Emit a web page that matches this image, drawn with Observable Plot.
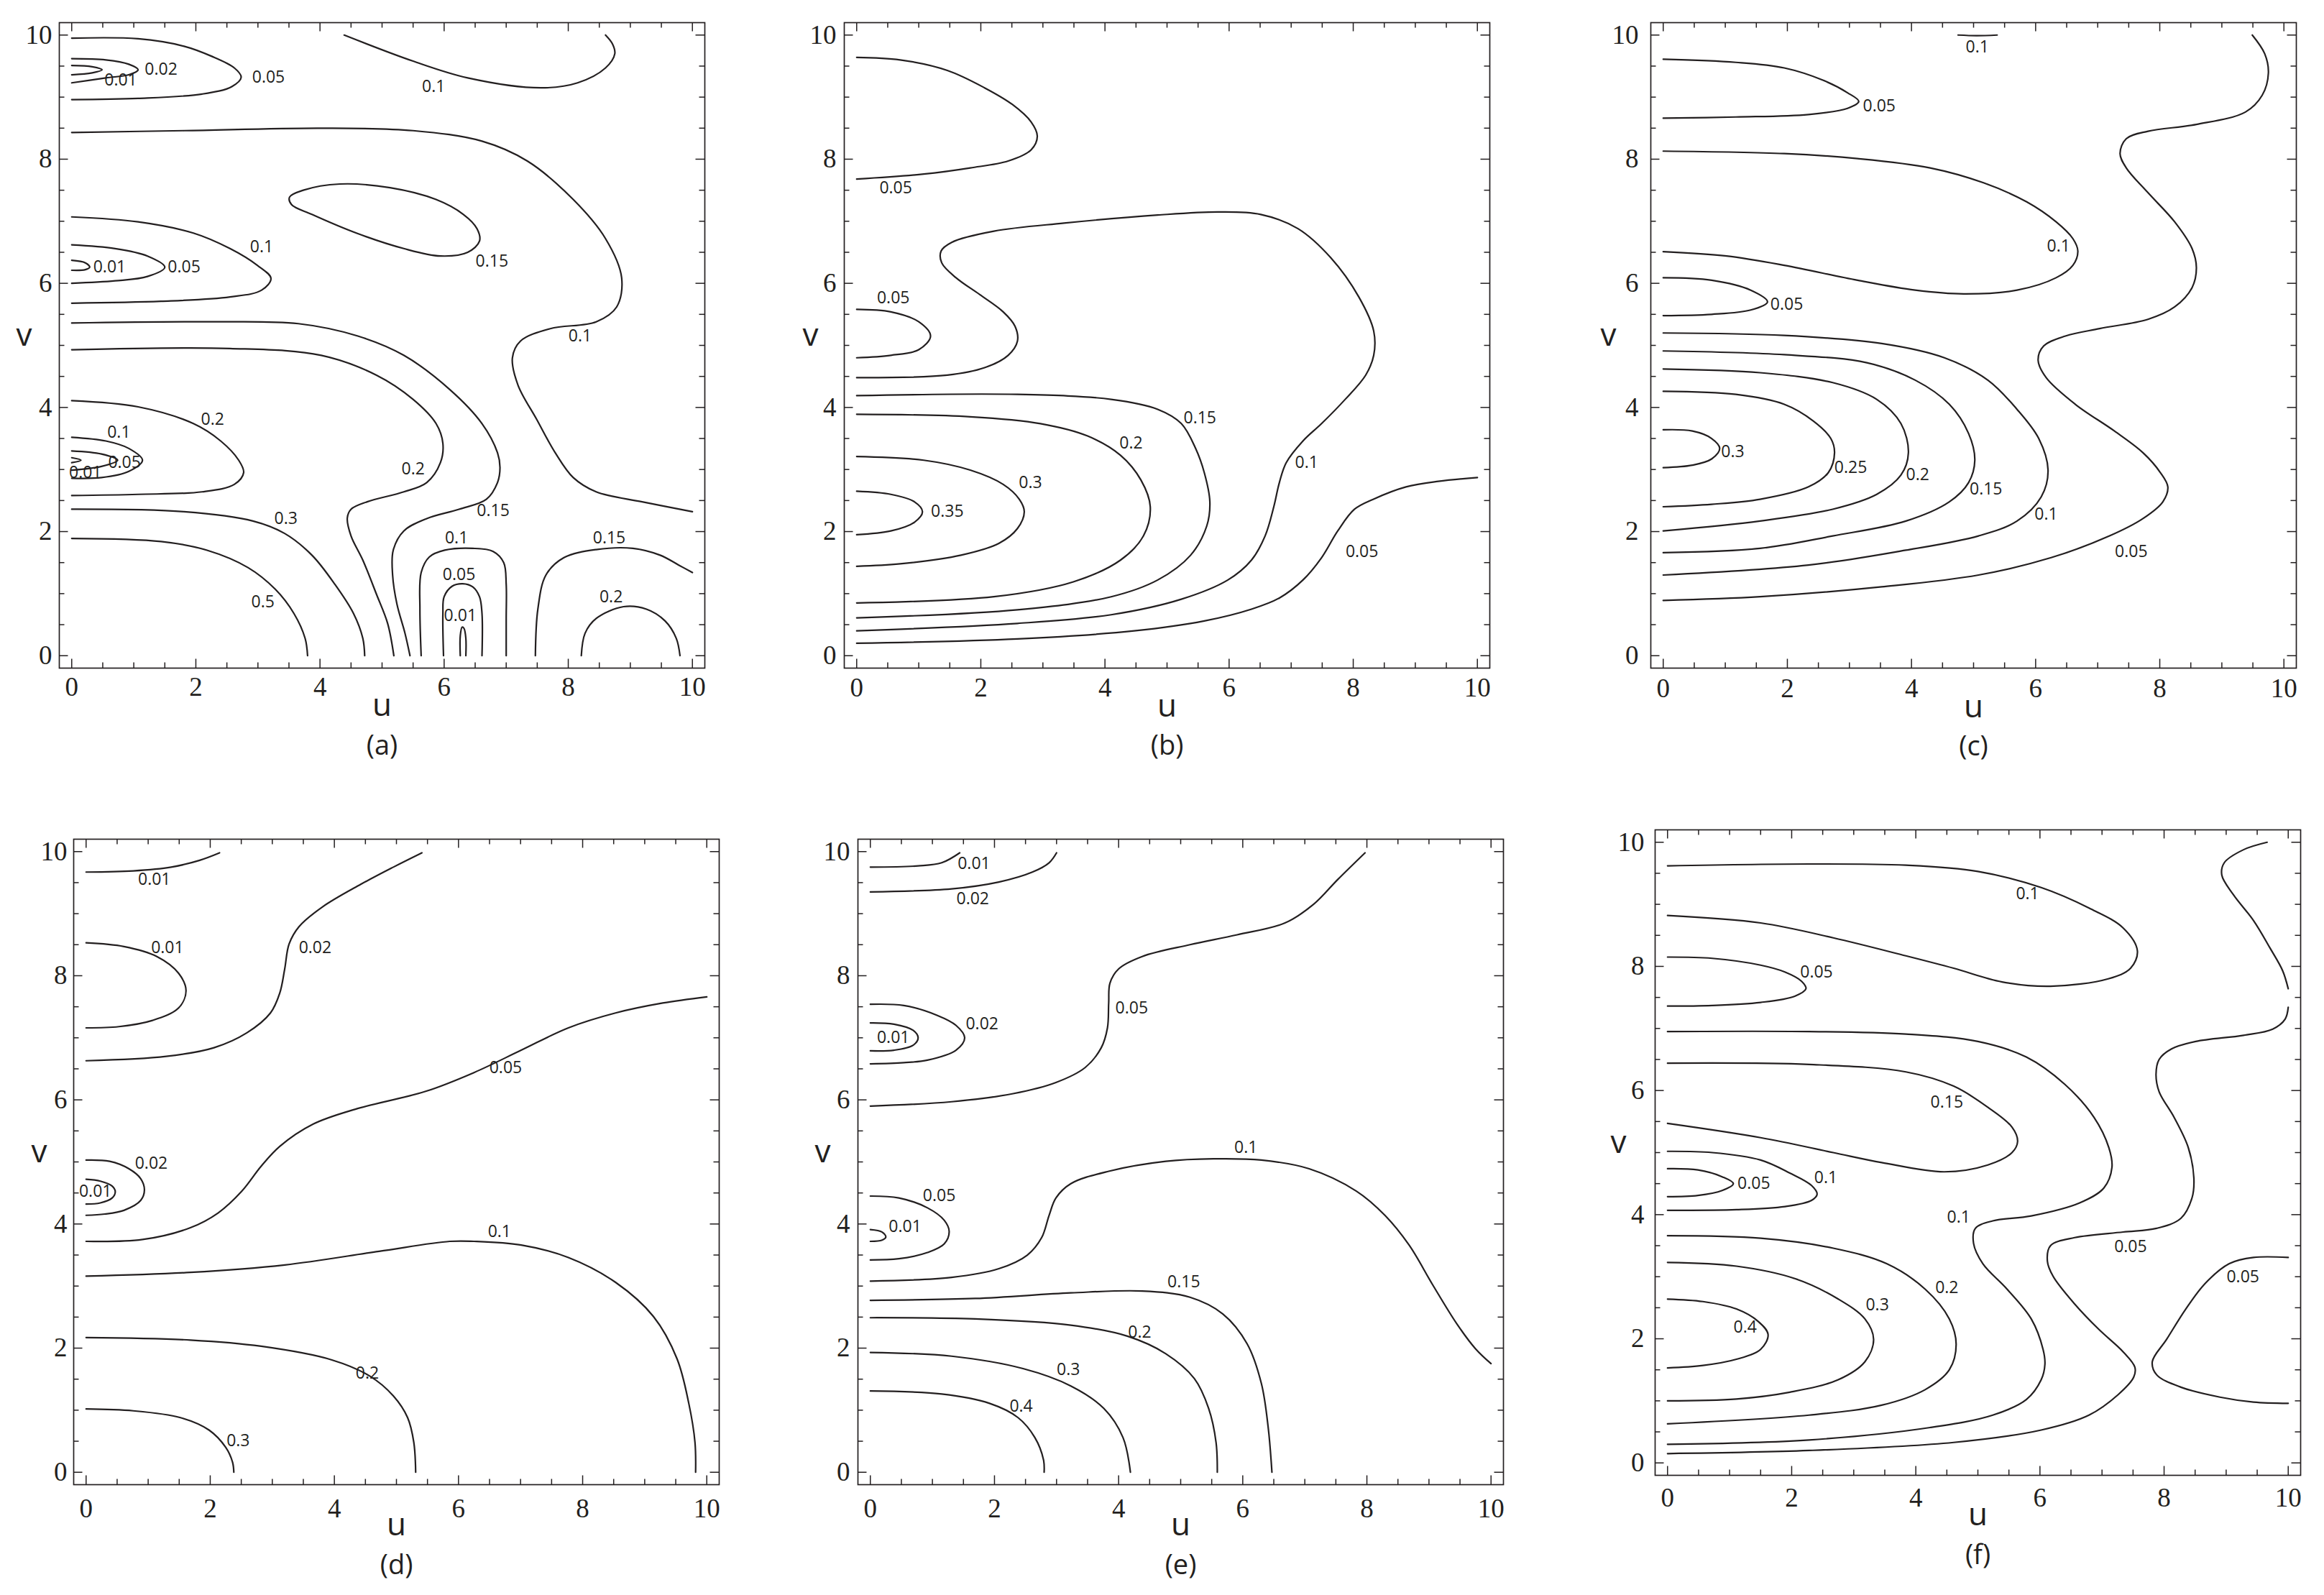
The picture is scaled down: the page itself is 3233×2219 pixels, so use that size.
<!DOCTYPE html>
<html><head><meta charset="utf-8">
<script src="https://cdn.jsdelivr.net/npm/d3@7"></script>
<script src="https://cdn.jsdelivr.net/npm/@observablehq/plot@0.6"></script>
<style>
html,body{margin:0;padding:0;background:#fff;}
#page{position:relative;width:3233px;height:2219px;background:#fff;overflow:hidden;}
#page svg{position:absolute;}
#page svg [aria-label$="tick label"] text{font-family:'Liberation Serif','Times New Roman',serif;}
</style></head><body><div id="page"></div>
<script>
// ---------- axis ticks ----------
const majorTicks = [0, 2, 4, 6, 8, 10];
const minorTicks = [0.5, 1, 1.5, 2.5, 3, 3.5, 4.5, 5, 5.5, 6.5, 7, 7.5, 8.5, 9, 9.5];

// ---------- panel (a) ----------
const linesA = [
  [[0,9.95],[1.07,9.94],[1.81,9.82],[2.25,9.66],[2.62,9.47],[2.73,9.32],[2.58,9.17],[2.10,9.05],[1.07,8.98],[0,8.96]],
  [[0,9.62],[0.55,9.6],[0.92,9.53],[1.07,9.44],[0.92,9.36],[0.55,9.31],[0,9.23]],
  [[0,9.51],[0.33,9.49],[0.49,9.44],[0.33,9.39],[0,9.36]],
  [[4.39,10.0],[5.5,9.58],[6.38,9.31],[7.56,9.15],[8.15,9.23],[8.6,9.47],[8.75,9.7],[8.71,9.86],[8.6,10.0]],
  [[0,8.43],[1.81,8.46],[4.02,8.5],[5.5,8.46],[6.61,8.29],[7.34,7.97],[8.08,7.35],[8.6,6.72],[8.86,6.09],[8.78,5.62],[8.45,5.38],[7.71,5.27],[7.23,5.07],[7.1,4.8],[7.19,4.36],[7.49,3.81],[7.79,3.27],[8.08,2.87],[8.45,2.64],[9.19,2.48],[10.0,2.32]],
  [[0,7.07],[1.07,6.99],[1.96,6.81],[2.55,6.56],[2.99,6.29],[3.21,6.08],[3.06,5.89],[2.55,5.78],[1.44,5.71],[0,5.68]],
  [[0,6.62],[0.7,6.56],[1.22,6.44],[1.5,6.26],[1.22,6.11],[0.7,6.04],[0,6.0]],
  [[0,6.37],[0.22,6.33],[0.29,6.26],[0.22,6.22],[0,6.21]],
  [[0,5.36],[2.18,5.38],[3.65,5.35],[4.61,5.15],[5.35,4.84],[6.09,4.29],[6.61,3.74],[6.86,3.27],[6.9,3.03],[6.86,2.79],[6.68,2.52],[6.24,2.36],[5.72,2.21],[5.35,2.01],[5.18,1.7],[5.17,1.3],[5.24,0.83],[5.37,0.36],[5.45,0]],
  [[0,4.93],[2.55,4.95],[4.02,4.84],[4.91,4.52],[5.5,4.13],[5.87,3.74],[5.98,3.42],[5.94,3.11],[5.72,2.79],[5.35,2.64],[4.76,2.48],[4.5,2.36],[4.44,2.22],[4.5,1.93],[4.69,1.54],[4.91,0.99],[5.09,0.52],[5.19,0]],
  [[0,2.36],[1.81,2.32],[2.92,2.17],[3.43,1.97],[3.87,1.62],[4.24,1.15],[4.54,0.68],[4.69,0.28],[4.72,0]],
  [[0,1.89],[1.44,1.84],[2.18,1.7],[2.84,1.42],[3.28,1.07],[3.58,0.68],[3.76,0.28],[3.8,0]],
  [[0,4.11],[1.07,4.01],[1.96,3.74],[2.4,3.46],[2.69,3.15],[2.77,2.95],[2.62,2.76],[2.1,2.64],[1.07,2.6],[0,2.58]],
  [[0,3.52],[0.55,3.46],[0.92,3.34],[1.14,3.15],[0.92,2.97],[0.48,2.87],[0,2.86]],
  [[0,3.3],[0.48,3.25],[0.74,3.15],[0.48,3.05],[0,2.99]],
  [[0,3.19],[0.15,3.15],[0,3.11]],
  [[7.47,0],[7.51,0.75],[7.64,1.3],[7.93,1.58],[8.45,1.71],[9.04,1.73],[9.48,1.62],[9.78,1.46],[10.0,1.34]],
  [[8.21,0],[8.27,0.36],[8.45,0.6],[8.89,0.79],[9.26,0.75],[9.56,0.56],[9.74,0.28],[9.8,0]],
  [[5.63,0],[5.61,0.75],[5.63,1.34],[5.76,1.59],[6.01,1.7],[6.46,1.73],[6.79,1.68],[6.96,1.5],[7.0,1.15],[7.0,0.6],[7.0,0]],
  [[5.99,0],[5.98,0.68],[6.0,0.95],[6.13,1.12],[6.3,1.16],[6.46,1.11],[6.57,0.95],[6.61,0.68],[6.61,0]],
  [[6.26,0],[6.26,0.32],[6.29,0.46],[6.32,0.44],[6.35,0.28],[6.35,0]]
];
const closedA = [
  [[3.51,7.39],[3.73,7.5],[4.32,7.6],[5.13,7.54],[5.87,7.35],[6.31,7.11],[6.53,6.88],[6.57,6.68],[6.38,6.5],[5.94,6.44],[5.35,6.56],[4.61,6.8],[3.87,7.11],[3.54,7.27]]
];
const labelsA = [
  [1.44,9.44,"0.02"],[3.17,9.32,"0.05"],[0.79,9.27,"0.01"],[5.83,9.17,"0.1"],[3.06,6.58,"0.1"],
  [0.61,6.26,"0.01"],[1.81,6.26,"0.05"],[6.77,6.35,"0.15"],[8.19,5.15,"0.1"],[2.27,3.8,"0.2"],
  [0.76,3.6,"0.1"],[0.85,3.11,"0.05"],[0.22,2.95,"0.01"],[5.5,3.01,"0.2"],[3.45,2.21,"0.3"],
  [6.79,2.34,"0.15"],[6.2,1.89,"0.1"],[8.66,1.89,"0.15"],[6.24,1.3,"0.05"],[8.69,0.95,"0.2"],
  [3.08,0.86,"0.5"],[6.26,0.64,"0.01"]
];

// ---------- panel (b) ----------
const linesB = [
  [[0,9.64],[0.7,9.6],[1.46,9.43],[2.06,9.15],[2.51,8.88],[2.81,8.6],[2.91,8.37],[2.81,8.15],[2.44,7.97],[1.83,7.86],[1.08,7.76],[0,7.68]],
  [[0,5.58],[0.55,5.54],[1.0,5.38],[1.19,5.15],[1.0,4.93],[0.55,4.84],[0,4.8]],
  [[0,4.48],[1.46,4.52],[2.06,4.64],[2.44,4.84],[2.59,5.07],[2.55,5.31],[2.36,5.54],[1.98,5.82],[1.6,6.09],[1.37,6.33],[1.36,6.52],[1.53,6.66],[2.21,6.84],[3.34,6.97],[4.85,7.1],[5.83,7.15],[6.51,7.11],[7.11,6.88],[7.64,6.41],[8.09,5.78],[8.33,5.23],[8.33,4.84],[8.2,4.52],[7.87,4.13],[7.49,3.74],[7.19,3.46],[6.92,3.11],[6.81,2.79],[6.72,2.4],[6.58,1.93],[6.36,1.54],[5.98,1.22],[5.23,0.91],[4.1,0.66],[2.59,0.52],[0,0.4]],
  [[0,4.19],[2.59,4.21],[4.1,4.13],[4.85,3.97],[5.23,3.74],[5.46,3.34],[5.6,2.95],[5.69,2.48],[5.64,2.09],[5.38,1.62],[4.85,1.22],[4.1,0.95],[2.59,0.74],[0,0.61]],
  [[0,3.89],[1.83,3.85],[2.96,3.74],[3.72,3.54],[4.25,3.23],[4.58,2.83],[4.73,2.4],[4.62,1.93],[4.25,1.54],[3.49,1.19],[2.21,0.95],[0,0.85]],
  [[0,3.21],[1.08,3.15],[1.83,2.99],[2.36,2.76],[2.62,2.52],[2.7,2.32],[2.59,2.05],[2.29,1.81],[1.68,1.62],[0.7,1.48],[0,1.44]],
  [[0,2.65],[0.55,2.6],[0.93,2.48],[1.06,2.32],[0.93,2.15],[0.55,2.01],[0,1.95]],
  [[0,0.2],[2.59,0.27],[4.47,0.4],[5.6,0.56],[6.36,0.75],[6.81,0.93],[7.19,1.22],[7.49,1.58],[7.75,2.01],[8.02,2.36],[8.32,2.52],[8.85,2.72],[9.37,2.81],[10.0,2.87]]
];
const labelsB = [
  [0.63,7.54,"0.05"],[0.59,5.76,"0.05"],[5.53,3.83,"0.15"],[4.42,3.42,"0.2"],[7.25,3.11,"0.1"],
  [2.8,2.79,"0.3"],[1.46,2.32,"0.35"],[8.14,1.67,"0.05"]
];

// ---------- panel (c) ----------
const linesC = [
  [[4.75,10.0],[5.05,9.99],[5.38,10.0]],
  [[0,9.61],[1.17,9.56],[1.95,9.47],[2.58,9.27],[2.97,9.07],[3.15,8.93],[2.97,8.82],[2.34,8.72],[1.17,8.68],[0,8.66]],
  [[0,8.13],[1.95,8.09],[3.13,8.01],[4.3,7.86],[5.16,7.62],[5.86,7.31],[6.33,6.99],[6.6,6.72],[6.68,6.52],[6.6,6.29],[6.33,6.09],[5.7,5.89],[4.84,5.83],[4.06,5.89],[3.13,6.05],[1.95,6.29],[1.02,6.44],[0,6.51]],
  [[0,6.09],[0.78,6.05],[1.41,5.89],[1.68,5.7],[1.41,5.57],[0.78,5.5],[0,5.48]],
  [[9.49,10.0],[9.69,9.7],[9.75,9.39],[9.65,9.03],[9.38,8.76],[8.59,8.56],[7.81,8.45],[7.46,8.33],[7.36,8.09],[7.46,7.86],[7.81,7.46],[8.24,6.99],[8.52,6.56],[8.59,6.25],[8.52,5.93],[8.24,5.62],[7.81,5.42],[7.03,5.27],[6.48,5.15],[6.13,4.99],[6.04,4.76],[6.17,4.48],[6.64,4.05],[7.27,3.62],[7.73,3.27],[8.01,2.95],[8.13,2.72],[8.05,2.48],[7.73,2.21],[7.19,1.93],[6.25,1.58],[5.08,1.3],[3.52,1.11],[1.56,0.95],[0,0.89]],
  [[0,5.2],[1.95,5.16],[3.52,5.03],[4.53,4.8],[5.23,4.44],[5.7,3.97],[6.05,3.5],[6.2,2.99],[6.09,2.56],[5.7,2.17],[5.08,1.93],[3.91,1.7],[2.34,1.46],[0,1.3]],
  [[0,4.91],[1.95,4.85],[3.28,4.72],[4.06,4.44],[4.61,4.05],[4.92,3.58],[5.02,3.15],[4.92,2.79],[4.61,2.48],[3.91,2.17],[2.73,1.93],[1.56,1.73],[0,1.66]],
  [[0,4.62],[1.56,4.56],[2.73,4.4],[3.44,4.13],[3.83,3.74],[3.95,3.27],[3.83,2.91],[3.44,2.6],[2.73,2.36],[1.56,2.17],[0,2.01]],
  [[0,4.26],[1.17,4.21],[1.95,4.05],[2.42,3.78],[2.7,3.5],[2.76,3.27],[2.66,2.95],[2.34,2.72],[1.56,2.52],[0.78,2.44],[0,2.4]],
  [[0,3.64],[0.47,3.62],[0.78,3.5],[0.91,3.34],[0.78,3.17],[0.47,3.07],[0,3.03]]
];
const labelsC = [
  [5.06,9.8,"0.1"],[3.48,8.85,"0.05"],[6.37,6.6,"0.1"],[1.99,5.66,"0.05"],[1.12,3.28,"0.3"],
  [3.02,3.03,"0.25"],[4.1,2.91,"0.2"],[5.2,2.68,"0.15"],[6.17,2.28,"0.1"],[7.54,1.67,"0.05"]
];

// ---------- panel (d) ----------
const linesD = [
  [[0,9.67],[0.76,9.69],[1.37,9.75],[1.83,9.86],[2.15,9.98]],
  [[0,6.63],[1.29,6.7],[2.06,6.84],[2.59,7.08],[2.97,7.4],[3.12,7.72],[3.2,8.11],[3.27,8.51],[3.43,8.79],[3.81,9.11],[4.42,9.47],[4.95,9.75],[5.41,9.98]],
  [[0,8.53],[0.61,8.47],[1.14,8.31],[1.49,8.04],[1.61,7.76],[1.49,7.48],[1.07,7.28],[0.53,7.18],[0,7.16]],
  [[0,3.72],[0.91,3.75],[1.68,3.94],[2.13,4.18],[2.51,4.53],[2.82,4.93],[3.12,5.25],[3.66,5.61],[4.34,5.85],[5.48,6.14],[6.25,6.44],[7.01,6.8],[7.77,7.16],[8.53,7.4],[9.29,7.56],[10.0,7.66]],
  [[0,5.03],[0.38,5.01],[0.69,4.89],[0.88,4.73],[0.94,4.55],[0.88,4.38],[0.61,4.22],[0.3,4.16],[0,4.14]],
  [[0,4.72],[0.23,4.69],[0.42,4.61],[0.47,4.52],[0.42,4.42],[0.23,4.34],[0,4.32]],
  [[0,3.16],[1.68,3.22],[3.2,3.34],[4.72,3.56],[5.86,3.72],[6.25,3.72],[7.01,3.66],[7.77,3.46],[8.53,3.06],[9.14,2.51],[9.52,1.83],[9.71,1.11],[9.81,0.48],[9.82,0]],
  [[0,2.17],[1.68,2.13],[2.82,2.03],[3.96,1.81],[4.57,1.55],[4.95,1.23],[5.18,0.88],[5.28,0.48],[5.31,0]],
  [[0,1.02],[0.76,0.99],[1.52,0.88],[1.98,0.68],[2.25,0.4],[2.36,0.16],[2.38,0]]
];
const labelsD = [
  [1.1,9.55,"0.01"],[1.31,8.45,"0.01"],[3.69,8.45,"0.02"],[6.76,6.52,"0.05"],[1.05,4.97,"0.02"],
  [0.15,4.52,"0.01"],[6.66,3.88,"0.1"],[4.53,1.59,"0.2"],[2.45,0.5,"0.3"]
];

// ---------- panel (e) ----------
const linesE = [
  [[0,9.75],[0.77,9.77],[1.15,9.82],[1.44,9.98]],
  [[0,9.35],[1.31,9.4],[2.07,9.51],[2.61,9.67],[2.88,9.82],[3.0,9.98]],
  [[0,5.9],[1.31,5.97],[2.3,6.1],[2.99,6.28],[3.46,6.52],[3.72,6.84],[3.82,7.16],[3.84,7.56],[3.86,7.88],[4.0,8.11],[4.38,8.31],[5.15,8.5],[5.91,8.66],[6.68,8.85],[7.14,9.15],[7.53,9.55],[7.97,9.98]],
  [[0,7.54],[0.54,7.52],[1.08,7.36],[1.38,7.2],[1.52,7.0],[1.38,6.8],[0.92,6.64],[0.54,6.6],[0,6.58]],
  [[0,7.24],[0.38,7.22],[0.69,7.12],[0.77,7.0],[0.69,6.88],[0.38,6.8],[0,6.79]],
  [[0,3.08],[1.31,3.14],[2.07,3.28],[2.53,3.5],[2.76,3.78],[2.88,4.14],[2.99,4.42],[3.23,4.65],[3.84,4.85],[4.76,5.01],[5.53,5.05],[6.3,5.03],[7.07,4.89],[7.83,4.53],[8.29,4.14],[8.68,3.66],[9.06,3.02],[9.45,2.39],[9.75,1.99],[10.0,1.75]],
  [[0,4.45],[0.46,4.42],[0.92,4.26],[1.19,4.06],[1.27,3.88],[1.19,3.68],[0.92,3.54],[0.46,3.44],[0,3.42]],
  [[0,3.91],[0.19,3.87],[0.25,3.79],[0.19,3.74],[0,3.72]],
  [[0,2.77],[1.69,2.8],[3.23,2.89],[4.38,2.92],[5.15,2.82],[5.68,2.55],[6.07,2.07],[6.3,1.43],[6.41,0.72],[6.47,0]],
  [[0,2.49],[1.69,2.47],[3.23,2.37],[4.15,2.19],[4.76,1.91],[5.22,1.51],[5.45,1.03],[5.57,0.48],[5.59,0]],
  [[0,1.93],[1.31,1.87],[2.46,1.67],[3.23,1.39],[3.76,1.03],[4.07,0.56],[4.19,0]],
  [[0,1.31],[1.15,1.26],[1.92,1.11],[2.38,0.88],[2.65,0.56],[2.79,0.2],[2.8,0]]
];
const labelsE = [
  [1.67,9.8,"0.01"],[1.65,9.24,"0.02"],[4.21,7.48,"0.05"],[1.8,7.22,"0.02"],[0.37,7.0,"0.01"],
  [6.05,5.23,"0.1"],[1.11,4.45,"0.05"],[0.56,3.96,"0.01"],[5.05,3.06,"0.15"],[4.34,2.25,"0.2"],
  [3.19,1.65,"0.3"],[2.43,1.06,"0.4"]
];

// ---------- panel (f) ----------
const linesF = [
  [[0,9.62],[2.28,9.65],[3.84,9.63],[5.0,9.53],[6.02,9.27],[6.79,8.94],[7.34,8.62],[7.57,8.25],[7.46,7.97],[7.1,7.8],[6.17,7.68],[5.39,7.75],[4.61,7.97],[3.84,8.17],[2.67,8.46],[1.5,8.7],[0,8.82]],
  [[0,8.15],[0.72,8.13],[1.5,8.02],[1.89,7.91],[2.16,7.76],[2.23,7.64],[2.05,7.52],[1.5,7.42],[0.72,7.37],[0,7.36]],
  [[9.66,10.0],[9.28,9.88],[8.97,9.67],[8.93,9.47],[9.12,9.15],[9.44,8.74],[9.71,8.29],[9.91,7.93],[10.0,7.64]],
  [[10.0,7.34],[9.95,7.15],[9.75,6.99],[9.28,6.89],[8.51,6.79],[8.12,6.67],[7.92,6.5],[7.87,6.26],[7.92,5.98],[8.16,5.57],[8.39,5.08],[8.48,4.59],[8.45,4.27],[8.27,3.94],[7.88,3.78],[7.34,3.72],[6.56,3.63],[6.17,3.5],[6.12,3.25],[6.21,3.01],[6.56,2.56],[6.95,2.15],[7.34,1.79],[7.53,1.54],[7.51,1.38],[7.26,1.1],[6.79,0.77],[6.02,0.53],[4.61,0.33],[2.28,0.2],[0,0.15]],
  [[10.0,3.31],[9.44,3.31],[9.05,3.21],[8.66,2.89],[8.35,2.48],[8.04,1.99],[7.81,1.63],[7.88,1.42],[8.27,1.22],[8.9,1.06],[9.44,0.98],[10.0,0.96]],
  [[0,6.95],[2.28,6.95],[3.84,6.91],[5.0,6.79],[5.78,6.54],[6.4,6.1],[6.87,5.57],[7.11,5.08],[7.16,4.76],[7.03,4.43],[6.64,4.19],[5.86,3.98],[5.24,3.9],[4.96,3.78],[4.93,3.54],[5.08,3.21],[5.47,2.8],[5.86,2.32],[6.05,1.83],[6.08,1.59],[6.02,1.34],[5.78,1.02],[5.24,0.77],[4.23,0.57],[2.28,0.37],[0,0.3]],
  [[0,6.44],[2.28,6.42],[3.84,6.3],[4.61,6.07],[5.16,5.73],[5.55,5.41],[5.64,5.18],[5.55,5.0],[5.16,4.8],[4.46,4.69],[3.45,4.84],[2.67,5.0],[1.5,5.24],[0,5.47]],
  [[0,5.02],[0.72,5.0],[1.5,4.88],[1.97,4.67],[2.32,4.47],[2.41,4.33],[2.32,4.23],[1.89,4.13],[1.11,4.08],[0,4.07]],
  [[0,4.74],[0.49,4.72],[0.88,4.61],[1.06,4.5],[0.88,4.39],[0.49,4.31],[0,4.29]],
  [[0,3.66],[1.5,3.62],[2.67,3.46],[3.53,3.21],[4.15,2.8],[4.54,2.32],[4.65,1.91],[4.54,1.5],[4.15,1.18],[3.45,0.93],[2.28,0.77],[0,0.63]],
  [[0,3.23],[1.11,3.17],[2.05,2.97],[2.75,2.64],[3.18,2.32],[3.32,1.99],[3.18,1.63],[2.75,1.34],[1.97,1.14],[1.11,1.03],[0,1.0]],
  [[0,2.64],[0.57,2.6],[1.11,2.48],[1.46,2.28],[1.62,2.07],[1.5,1.83],[1.11,1.67],[0.57,1.57],[0,1.53]]
];
const labelsF = [
  [5.8,9.17,"0.1"],[2.4,7.9,"0.05"],[4.5,5.81,"0.15"],[2.55,4.59,"0.1"],[1.39,4.5,"0.05"],
  [4.69,3.96,"0.1"],[7.46,3.48,"0.05"],[9.27,2.99,"0.05"],[4.5,2.82,"0.2"],[3.38,2.54,"0.3"],
  [1.25,2.18,"0.4"]
];

// ---------- layout / style ----------
const INK = "#231f20";
const FRAME = 898;
const M = {left: 80, right: 12, top: 10, bottom: 140};
const LO = -0.2, HI = 10.2;
const panels = [
  {name: "(a)", lines: linesA, closed: closedA, labels: labelsA, fx: 82,   fy: 31,   yGap: 10, xGap: 12, vdx: -60, udy: 66, ndy: 120},
  {name: "(b)", lines: linesB, closed: [],      labels: labelsB, fx: 1174, fy: 31,   yGap: 11, xGap: 13, vdx: -58, udy: 67, ndy: 120},
  {name: "(c)", lines: linesC, closed: [],      labels: labelsC, fx: 2296, fy: 31,   yGap: 17, xGap: 14, vdx: -70, udy: 68, ndy: 121},
  {name: "(d)", lines: linesD, closed: [],      labels: labelsD, fx: 102,  fy: 1167, yGap: 9,  xGap: 19, vdx: -59, udy: 70, ndy: 124},
  {name: "(e)", lines: linesE, closed: [],      labels: labelsE, fx: 1193, fy: 1167, yGap: 11, xGap: 19, vdx: -60, udy: 70, ndy: 124},
  {name: "(f)", lines: linesF, closed: [],      labels: labelsF, fx: 2302, fy: 1154, yGap: 15, xGap: 17, vdx: -62, udy: 69, ndy: 123}
];

function toRows(curves) {
  return curves.flatMap((pts, i) => pts.map(([u, v]) => ({id: i, u, v})));
}

const page = document.getElementById("page");
const unitPerPx = (HI - LO) / FRAME;
const kMaj = 12.5 * unitPerPx, kMin = 7.5 * unitPerPx;
const tickStyle = {stroke: INK, strokeWidth: 1.5};
const sans = "'Open Sans', 'Noto Sans', sans-serif";
const serif = "'Liberation Serif', 'Times New Roman', serif";

for (const p of panels) {
  const svg = Plot.plot({
    width: FRAME + M.left + M.right,
    height: FRAME + M.top + M.bottom,
    marginLeft: M.left, marginRight: M.right, marginTop: M.top, marginBottom: M.bottom,
    x: {domain: [LO, HI]},
    y: {domain: [LO, HI]},
    style: {background: "transparent", color: INK, fontFamily: serif, fontSize: "37px"},
    marks: [
      Plot.frame({stroke: INK, strokeWidth: 1.7}),
      // inward ticks on all four sides
      Plot.ruleX(majorTicks, {x: d => d, y1: () => LO, y2: () => LO + kMaj, ...tickStyle}),
      Plot.ruleX(majorTicks, {x: d => d, y1: () => HI, y2: () => HI - kMaj, ...tickStyle}),
      Plot.ruleX(minorTicks, {x: d => d, y1: () => LO, y2: () => LO + kMin, ...tickStyle}),
      Plot.ruleX(minorTicks, {x: d => d, y1: () => HI, y2: () => HI - kMin, ...tickStyle}),
      Plot.ruleY(majorTicks, {y: d => d, x1: () => LO, x2: () => LO + kMaj, ...tickStyle}),
      Plot.ruleY(majorTicks, {y: d => d, x1: () => HI, x2: () => HI - kMaj, ...tickStyle}),
      Plot.ruleY(minorTicks, {y: d => d, x1: () => LO, x2: () => LO + kMin, ...tickStyle}),
      Plot.ruleY(minorTicks, {y: d => d, x1: () => HI, x2: () => HI - kMin, ...tickStyle}),
      Plot.axisX(majorTicks, {anchor: "bottom", tickSize: 0, tickPadding: p.xGap, label: null, tickFormat: d => String(d), fontFamily: serif, fontSize: 37, fill: INK}),
      Plot.axisY(majorTicks, {anchor: "left", tickSize: 0, tickPadding: p.yGap, label: null, tickFormat: d => String(d), fontFamily: serif, fontSize: 37, fill: INK}),
      // contour lines
      Plot.line(toRows(p.lines), {x: "u", y: "v", z: "id", curve: "catmull-rom", stroke: INK, strokeWidth: 2.2}),
      Plot.line(toRows(p.closed), {x: "u", y: "v", z: "id", curve: "catmull-rom-closed", stroke: INK, strokeWidth: 2.2}),
      // contour labels
      Plot.text(p.labels, {x: d => d[0], y: d => d[1], text: d => d[2], fontFamily: sans, fontSize: 23, fill: INK}),
      // axis names and panel caption
      Plot.text(["u"], {text: d => d, frameAnchor: "bottom", lineAnchor: "bottom", dy: p.udy, fontFamily: sans, fontSize: 44, fill: INK}),
      Plot.text([p.name], {text: d => d, frameAnchor: "bottom", lineAnchor: "bottom", dy: p.ndy, fontFamily: sans, fontSize: 38, fill: INK}),
      Plot.text(["v"], {text: d => d, frameAnchor: "left", lineAnchor: "bottom", dx: p.vdx, dy: 0, fontFamily: sans, fontSize: 44, fill: INK})
    ]
  });
  svg.style.left = (p.fx - M.left) + "px";
  svg.style.top = (p.fy - M.top) + "px";
  page.appendChild(svg);
}
</script>
</body></html>
